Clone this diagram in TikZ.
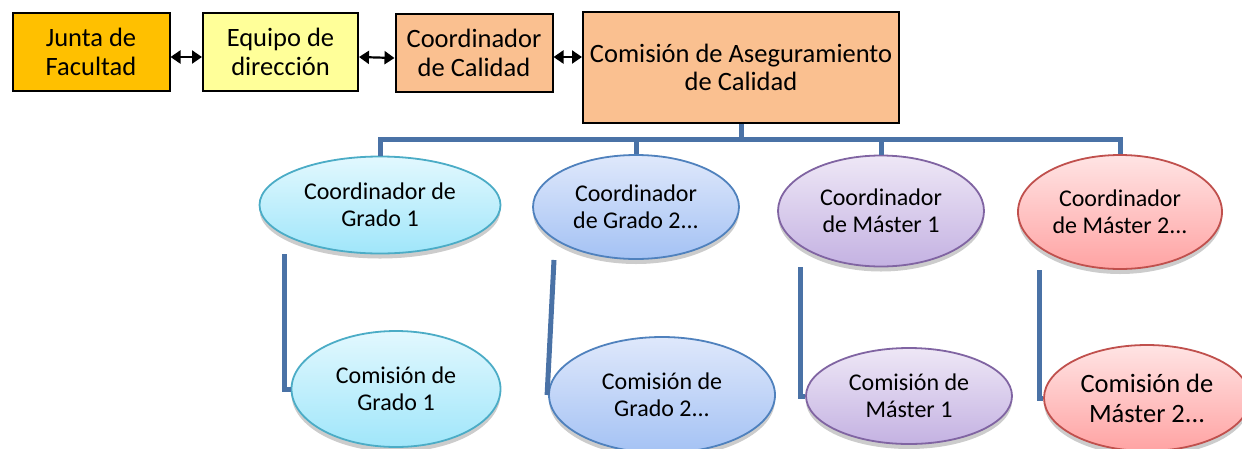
\documentclass[tikz,border=0pt]{standalone}
\usepackage{fontspec}
\setmainfont{Carlito}
\usetikzlibrary{shapes.geometric,shadows,arrows.meta}

\definecolor{orjunta}{HTML}{FFC000}
\definecolor{jaune}{HTML}{FFFF99}
\definecolor{peche}{HTML}{FAC090}
\definecolor{lien}{HTML}{4A72A6}
\definecolor{cyanhaut}{HTML}{E2F8FE}
\definecolor{cyanbas}{HTML}{A0E6FA}
\definecolor{cyanbord}{HTML}{4BACC6}
\definecolor{bleuhaut}{HTML}{DFE8FB}
\definecolor{bleubas}{HTML}{A4C2F4}
\definecolor{bleubord}{HTML}{4F81BD}
\definecolor{violethaut}{HTML}{EEE7F6}
\definecolor{violetbas}{HTML}{C4B2E2}
\definecolor{violetbord}{HTML}{8064A2}
\definecolor{rougehaut}{HTML}{FFE4E4}
\definecolor{rougebas}{HTML}{FFA3A3}
\definecolor{rougebord}{HTML}{C0504D}

\begin{document}
\begin{tikzpicture}[x=1pt,y=-1pt]

% définition des styles
\tikzstyle{boite}=[rectangle,draw=black,line width=2pt,align=center,inner sep=0pt,
  minimum width=157pt,minimum height=78pt,font=\fontsize{26.5}{28.5}\selectfont]
\tikzstyle{bulle}=[ellipse,line width=1.8pt,align=center,inner sep=0pt,
  font=\fontsize{24}{27}\selectfont,
  drop shadow={shadow xshift=0pt,shadow yshift=-5pt,opacity=.2,fill=black}]
\tikzstyle{cyan}=[bulle,draw=cyanbord,top color=cyanhaut,bottom color=cyanbas]
\tikzstyle{bleu}=[bulle,draw=bleubord,top color=bleuhaut,bottom color=bleubas]
\tikzstyle{violet}=[bulle,draw=violetbord,top color=violethaut,bottom color=violetbas]
\tikzstyle{rouge}=[bulle,draw=rougebord,top color=rougehaut,bottom color=rougebas]
\tikzstyle{fleche}=[{Triangle[length=10pt,width=13pt]}-{Triangle[length=10pt,width=13pt]},line width=2.2pt]
\tikzstyle{ligne}=[-,line width=5pt,draw=lien]

\useasboundingbox (0,0) rectangle (1242,448);

% les boîtes
\node [boite,fill=orjunta] (junta) at (91,52) {Junta de\\Facultad};
\node [boite,fill=jaune,minimum width=155pt] (equipo) at (280.5,52) {Equipo de\\dirección};
\node [boite,fill=peche] (coordcal) at (474,53) {Coordinador\\de Calidad};
\node [boite,fill=peche,minimum width=316pt,minimum height=111pt] (comision) at (741,67.5)
  {Comisión de Aseguramiento\\de Calidad};

% les ellipses du haut
\node [cyan,minimum width=241pt,minimum height=97pt] (cg1) at (380,205) {Coordinador de\\Grado 1};
\node [bleu,minimum width=206pt,minimum height=104pt] (cg2) at (636,207) {Coordinador\\de Grado 2...};
\node [violet,minimum width=206pt,minimum height=111pt] (cm1) at (881,211) {Coordinador\\de Máster 1};
\node [rouge,minimum width=204pt,minimum height=114pt] (cm2) at (1120,212) {Coordinador\\de Máster 2...};

% les ellipses du bas
\node [cyan,minimum width=209pt,minimum height=116pt] (og1) at (396,389) {Comisión de\\Grado 1};
\node [bleu,minimum width=226pt,minimum height=116pt] (og2) at (662,395) {Comisión de\\Grado 2...};
\node [violet,minimum width=206pt,minimum height=96pt] (om1) at (909,396) {Comisión de\\Máster 1};
\node [rouge,minimum width=206pt,minimum height=106pt,font=\fontsize{26.5}{30}\selectfont] (om2) at (1147,398)
  {Comisión de\\Máster 2...};

% les flèches
\draw[fleche] ([yshift=-5pt]junta.east) -- ([yshift=-5pt]equipo.west);
\draw[fleche] ([yshift=-5pt]equipo.east) -- ([yshift=-5pt]coordcal.west);
\draw[fleche] ([yshift=-4pt]coordcal.east) -- ([yshift=-4pt]coordcal.east -| comision.west);

% l'arbre
\coordinate (bus) at (741,139);
\draw[ligne] (comision.south) -- (bus);
\draw[ligne] (bus) -| (cg1.north);
\draw[ligne] (bus) -| (cg2.north);
\draw[ligne] (bus) -| (cm1.north);
\draw[ligne] (bus) -| (cm2.north);

% les liaisons vers les commissions
\coordinate (dg1) at (284,254);
\coordinate (dg2) at (554,260);
\coordinate (dm1) at (800,267);
\coordinate (dm2) at (1039,270);
\draw[ligne] (dg1) |- (og1.west);
\draw[ligne] (dg2) -- ([xshift=-1pt]og2.west);
\draw[ligne] (dm1) |- (om1.west);
\draw[ligne] (dm2) |- (om2.west);

\end{tikzpicture}
\end{document}
